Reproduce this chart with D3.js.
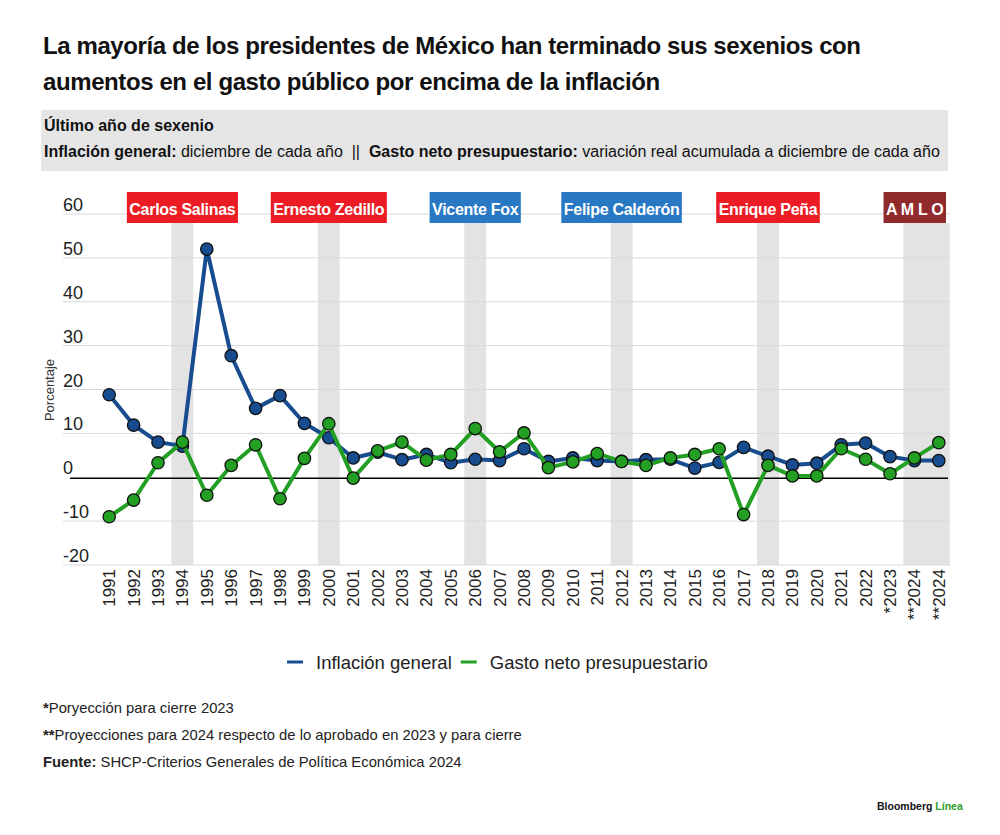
<!DOCTYPE html>
<html>
<head>
<meta charset="utf-8">
<script src="https://cdn.jsdelivr.net/npm/d3@7"></script>
<style>
  html, body { margin: 0; padding: 0; background: #fff; }
  svg { display: block; }
  text { white-space: pre; }
</style>
</head>
<body>
<svg id="chart" width="1000" height="835"></svg>
<script>
// ---------------- DATA ----------------
const years = ["1991","1992","1993","1994","1995","1996","1997","1998","1999","2000",
  "2001","2002","2003","2004","2005","2006","2007","2008","2009","2010",
  "2011","2012","2013","2014","2015","2016","2017","2018","2019","2020",
  "2021","2022","*2023","**2024","**2024"];
const inflacion = [18.8,11.9,8.0,7.1,52.0,27.7,15.7,18.6,12.3,9.0,
  4.4,5.7,4.0,5.2,3.3,4.1,3.8,6.5,3.6,4.4,
  3.8,3.6,4.0,4.1,2.1,3.4,6.8,4.8,2.8,3.2,
  7.4,7.8,4.7,3.8,3.8];
const gasto = [-9.0,-5.2,3.3,8.0,-4.1,2.7,7.4,-4.9,4.3,12.2,
  -0.2,6.0,8.0,3.9,5.2,11.1,5.8,10.1,2.2,3.5,
  5.4,3.6,2.7,4.4,5.2,6.5,-8.5,2.7,0.3,0.3,
  6.5,4.1,0.8,4.4,7.9];
const yTicks = [-20,-10,0,10,20,30,40,50,60];
const presidents = ["Carlos Salinas","Ernesto Zedillo","Vicente Fox","Felipe Calderón","Enrique Peña","A M L O"];
const presidentLastYear = [[3],[9],[15],[21],[27],[33,34]]; // indices of last-year categories
const presidentParty = ["PRI","PRI","PAN","PAN","PRI","MORENA"];
const seriesNames = ["Inflación general","Gasto neto presupuestario"];

// ---------------- STYLE ----------------
const partyColor = {PRI:"#ec1c24", PAN:"#2878c4", MORENA:"#912a2a"};
const colBlue = "#174c8f", colGreen = "#23a023";
const sans = "'Liberation Sans',Arial,Helvetica,sans-serif";

const svg = d3.select("#chart");

// Title
["La mayoría de los presidentes de México han terminado sus sexenios con",
 "aumentos en el gasto público por encima de la inflación"].forEach((s,k) => {
  svg.append("text").attr("x",43).attr("y",54 + k*36)
    .attr("font-family",sans).attr("font-weight","bold").attr("font-size",24)
    .attr("letter-spacing",-0.4).attr("fill","#111").text(s);
});

// Subtitle box
svg.append("rect").attr("x",41).attr("y",110).attr("width",907).attr("height",61).attr("fill","#e5e5e5");
svg.append("text").attr("x",44).attr("y",131)
  .attr("font-family",sans).attr("font-weight","bold").attr("font-size",16).attr("fill","#111")
  .text("Último año de sexenio");
const sub = svg.append("text").attr("x",44).attr("y",157)
  .attr("font-family",sans).attr("font-size",16).attr("fill","#111");
sub.append("tspan").attr("font-weight","bold").text("Inflación general:");
sub.append("tspan").text(" diciembre de cada año  ||  ");
sub.append("tspan").attr("font-weight","bold").text("Gasto neto presupuestario:");
sub.append("tspan").text(" variación real acumulada a diciembre de cada año");

// Scales
const x = d3.scaleBand().domain(d3.range(years.length)).range([97,951]).paddingInner(0.1).paddingOuter(0.05);
const y = d3.scaleLinear().domain([-20,60]).range([565,214]);
const cx = i => x(i) + x.bandwidth()/2;

// Shaded last-year bands
const bandTop = 223;
presidentLastYear.forEach(idx => {
  const x0 = x(d3.min(idx)), x1 = x(d3.max(idx)) + x.bandwidth();
  svg.append("rect").attr("x",x0).attr("y",bandTop).attr("width",x1-x0).attr("height",y(-20)-bandTop)
    .attr("fill","#e3e3e3");
});

// Gridlines and y labels
const grid = svg.append("g");
yTicks.forEach(t => {
  if (t !== 0) grid.append("line").attr("x1",63).attr("x2",950).attr("y1",y(t)).attr("y2",y(t))
    .attr("stroke","#d9d9d9").attr("stroke-width",1);
  grid.append("text").attr("x",63).attr("y",y(t)-3)
    .attr("font-family",sans).attr("font-size",18).attr("fill","#222").text(t);
});
svg.append("line").attr("x1",70).attr("x2",948).attr("y1",y(0)+1).attr("y2",y(0)+1)
  .attr("stroke","#000").attr("stroke-width",1.5);

// Y axis title
svg.append("text").attr("transform","translate(54,390) rotate(-90)")
  .attr("text-anchor","middle").attr("font-family",sans).attr("font-size",13).attr("fill","#333")
  .text("Porcentaje");

// X axis
const xAxis = svg.append("g").attr("transform",`translate(0,${y(-20)})`)
  .call(d3.axisBottom(x).tickSize(0).tickFormat(i => years[i]));
xAxis.select(".domain").remove();
xAxis.selectAll("text")
  .attr("font-family",sans).attr("font-size",17).attr("fill","#222")
  .attr("transform","rotate(-90)").attr("text-anchor","end")
  .attr("x",-4).attr("y",0).attr("dy","0.35em");

// President labels
presidents.forEach((name,k) => {
  const idx = presidentLastYear[k];
  const center = (cx(d3.min(idx)) + cx(d3.max(idx)))/2;
  const g = svg.append("g");
  const r = g.append("rect").attr("y",192).attr("height",31).attr("fill",partyColor[presidentParty[k]]);
  const t = g.append("text").attr("y",215).attr("text-anchor","middle")
    .attr("font-family",sans).attr("font-weight","bold").attr("font-size",16).attr("letter-spacing",-0.3)
    .attr("fill","#fff").text(name);
  const w = t.node().getComputedTextLength() + 5;
  let left = center - w/2;
  const right = 946;
  if (left + w > right) left = right - w;
  r.attr("x",left).attr("width",w);
  t.attr("x",left + w/2);
});

// Lines and markers
const line = d3.line().x((d,i) => cx(i)).y(d => y(d));
[[inflacion,colBlue],[gasto,colGreen]].forEach(([vals,col]) => {
  svg.append("path").datum(vals).attr("d",line).attr("fill","none")
    .attr("stroke",col).attr("stroke-width",4).attr("stroke-linejoin","round");
  svg.append("g").selectAll("circle").data(vals).join("circle")
    .attr("cx",(d,i) => cx(i)).attr("cy",d => y(d)).attr("r",6.2)
    .attr("fill",col).attr("stroke","#111").attr("stroke-width",1.3);
});

// Legend
const legend = svg.append("g").attr("transform","translate(0,662)");
let lx = 287;
seriesNames.forEach((nm,k) => {
  legend.append("line").attr("x1",lx).attr("x2",lx+16).attr("y1",0).attr("y2",0)
    .attr("stroke",k===0?colBlue:colGreen).attr("stroke-width",3);
  const t = legend.append("text").attr("x",lx+29).attr("y",6.5)
    .attr("font-family",sans).attr("font-size",18.5).attr("fill","#222").text(nm);
  lx += 29 + t.node().getComputedTextLength() + 9;
});

// Footnotes
const notes = [
  [["*",true],["Poryección para cierre 2023",false]],
  [["**",true],["Proyecciones para 2024 respecto de lo aprobado en 2023 y para cierre",false]],
  [["Fuente:",true],[" SHCP-Criterios Generales de Política Económica 2024",false]]
];
notes.forEach((parts,k) => {
  const t = svg.append("text").attr("x",43).attr("y",713 + k*27)
    .attr("font-family",sans).attr("font-size",14.8).attr("fill","#222");
  parts.forEach(([s,b]) => t.append("tspan").attr("font-weight",b?"bold":"normal").text(s));
});

// Logo
const logo = svg.append("text").attr("x",877).attr("y",810)
  .attr("font-family",sans).attr("font-weight","bold").attr("font-size",10.5);
logo.append("tspan").attr("fill","#111").text("Bloomberg ");
logo.append("tspan").attr("fill","#2a9d2a").text("Línea");
</script>
</body>
</html>
